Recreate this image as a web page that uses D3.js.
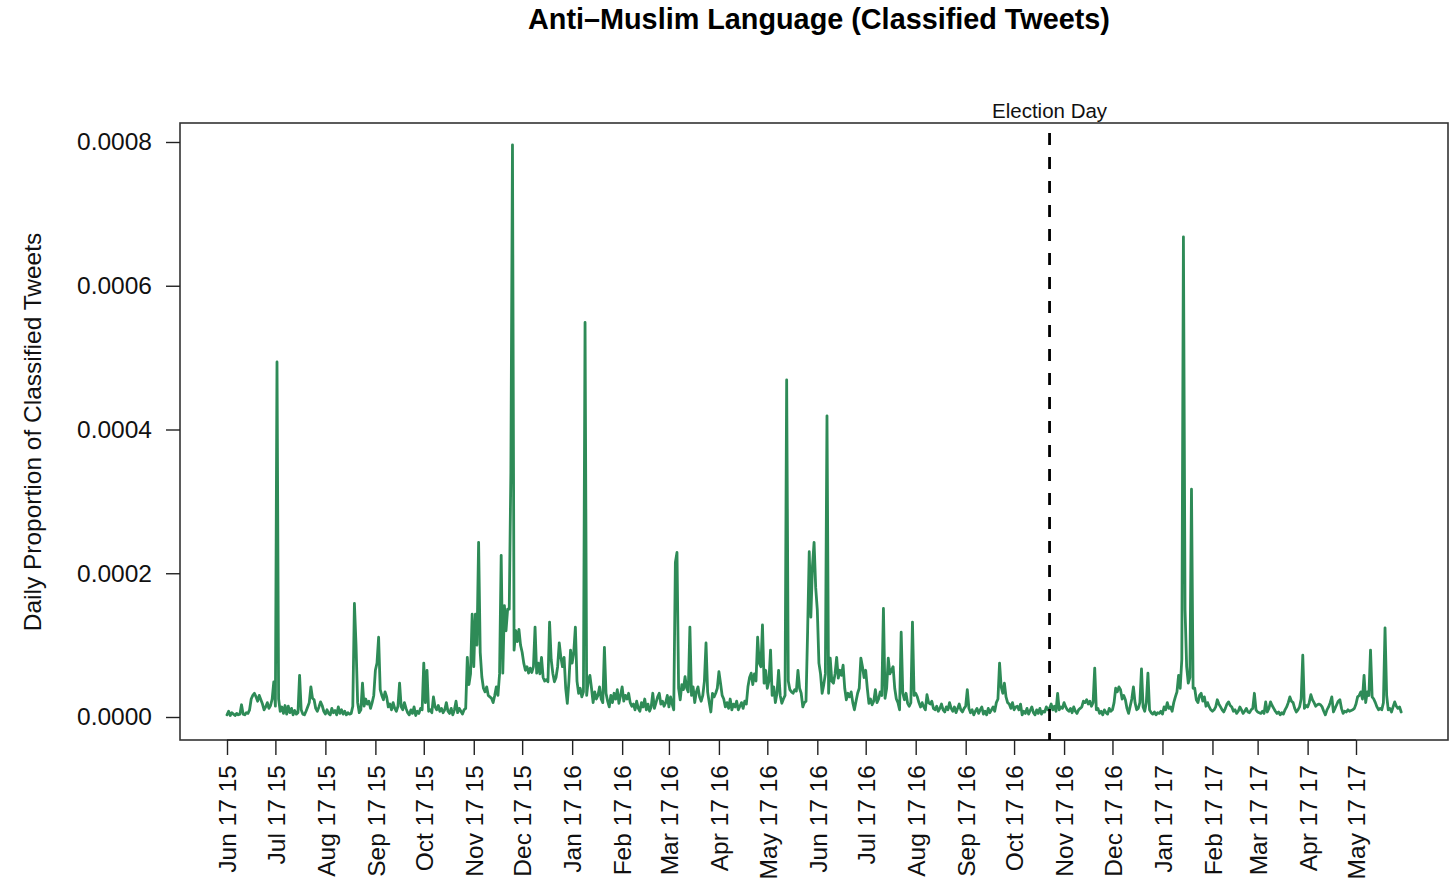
<!DOCTYPE html>
<html>
<head>
<meta charset="utf-8">
<script src="https://cdn.jsdelivr.net/npm/d3@7"></script>
<style>
  html, body { margin: 0; padding: 0; background: #fff; }
  svg { display: block; font-family: "Liberation Sans", Arial, Helvetica, sans-serif; }
</style>
</head>
<body>
<svg id="chart" width="1452" height="883"></svg>
<script>
// Daily proportion of classified tweets, in units of one per million (×1e-6),
// one value per day starting 17 June 2015.
const startDate = new Date(Date.UTC(2015, 5, 17));
const unit = 1e-6;
const dailyPerMillion = [
  3, 8, 2, 6, 4, 2, 5, 3, 4, 17,
  4, 3, 6, 5, 10, 25, 30, 33, 28, 22,
  30, 24, 18, 10, 14, 20, 12, 16, 25, 49,
  15, 494, 25, 8, 14, 5, 16, 4, 15, 6,
  12, 3, 9, 4, 6, 58, 10, 4, 3, 8,
  14, 20, 42, 26, 24, 12, 8, 14, 21, 16,
  8, 4, 10, 5, 3, 12, 6, 9, 3, 14,
  5, 10, 4, 8, 3, 6, 4, 5, 15, 158,
  100, 20, 6, 10, 47, 15, 25, 18, 22, 12,
  20, 30, 65, 75, 111, 38, 30, 24, 35, 28,
  14, 18, 10, 20, 12, 8, 15, 47, 14, 10,
  20, 12, 6, 3, 10, 5, 14, 2, 8, 5,
  12, 10, 75, 20, 65, 8, 10, 6, 28, 14,
  10, 16, 8, 12, 6, 10, 20, 8, 5, 12,
  3, 10, 22, 6, 12, 8, 4, 10, 12, 83,
  45, 60, 143, 70, 143, 100, 243, 90, 56, 40,
  35, 42, 30, 28, 26, 20, 30, 42, 30, 60,
  225, 61, 155, 120, 150, 150, 340, 796, 93, 120,
  105, 122, 100, 90, 75, 65, 70, 61, 68, 62,
  70, 125, 61, 75, 60, 83, 55, 50, 52, 49,
  132, 80, 61, 49, 55, 70, 103, 83, 70, 83,
  40, 19, 50, 93, 75, 90, 125, 50, 33, 40,
  28, 35, 549, 30, 51, 58, 40, 20, 35, 25,
  30, 42, 25, 20, 97, 33, 22, 14, 30, 20,
  33, 25, 38, 19, 30, 42, 22, 30, 25, 33,
  20, 15, 18, 10, 22, 12, 8, 20, 14, 25,
  10, 18, 8, 14, 33, 12, 20, 28, 33, 18,
  22, 15, 20, 30, 14, 28, 18, 10, 215, 229,
  40, 24, 45, 38, 56, 40, 35, 125, 30, 42,
  20, 35, 42, 28, 22, 30, 50, 103, 35, 20,
  7, 33, 28, 33, 40, 63, 47, 30, 25, 14,
  20, 12, 25, 10, 18, 14, 22, 10, 15, 20,
  12, 22, 18, 42, 55, 61, 45, 60, 50, 111,
  75, 70, 128, 47, 65, 40, 50, 93, 30, 42,
  20, 33, 65, 30, 19, 25, 30, 469, 50, 38,
  35, 33, 38, 36, 65, 40, 33, 14, 20, 22,
  120, 230, 139, 210, 243, 180, 149, 75, 60, 33,
  45, 60, 419, 33, 82, 50, 47, 60, 83, 54,
  65, 58, 72, 40, 24, 33, 28, 35, 20, 10,
  22, 33, 40, 82, 70, 55, 65, 40, 19, 25,
  17, 22, 38, 20, 25, 35, 30, 151, 26, 40,
  82, 60, 65, 70, 40, 25, 20, 10, 118, 33,
  24, 33, 19, 15, 20, 132, 30, 33, 28, 20,
  14, 20, 14, 10, 31, 20, 18, 22, 12, 10,
  15, 8, 12, 18, 10, 7, 14, 10, 20, 12,
  8, 14, 6, 12, 18, 10, 7, 12, 15, 38,
  12, 6, 10, 3, 8, 12, 5, 10, 14, 4,
  8, 3, 12, 6, 10, 14, 8, 20, 25, 75,
  42, 33, 47, 28, 20, 18, 12, 20, 10, 14,
  15, 10, 18, 3, 8, 5, 12, 4, 9, 14,
  6, 3, 10, 5, 12, 4, 8, 7, 14, 10,
  12, 18, 10, 15, 8, 33, 10, 14, 12, 20,
  14, 10, 8, 12, 6, 14, 8, 5, 10, 12,
  14, 22, 20, 24, 18, 22, 15, 20, 68, 10,
  12, 5, 8, 3, 10, 6, 4, 12, 8, 10,
  20, 40, 35, 42, 38, 25, 30, 24, 12, 5,
  15, 25, 42, 20, 10, 12, 20, 67, 14, 8,
  20, 61, 10, 6, 4, 7, 3, 6, 5, 8,
  4, 14, 10, 20, 12, 14, 8, 20, 28, 35,
  58, 40, 80, 668, 150, 70, 47, 55, 317, 40,
  40, 24, 20, 30, 33, 22, 28, 15, 20, 14,
  10, 8, 10, 14, 24, 18, 14, 10, 7, 12,
  18, 21, 16, 14, 8, 10, 5, 8, 14, 10,
  5, 8, 12, 7, 6, 10, 12, 33, 10, 7,
  6, 5, 8, 5, 21, 7, 12, 21, 16, 12,
  8, 5, 7, 3, 6, 4, 10, 14, 20, 28,
  22, 20, 12, 7, 10, 14, 25, 86, 12, 16,
  14, 20, 31, 24, 20, 15, 17, 18, 17, 14,
  8, 3, 10, 14, 20, 28, 7, 12, 17, 22,
  24, 12, 5, 8, 7, 10, 8, 9, 10, 12,
  18, 28, 30, 35, 25, 58, 20, 35, 30, 93,
  28, 25, 20, 14, 10, 12, 10, 20, 124, 30,
  10, 12, 7, 14, 21, 15, 12, 14, 7
];

// Axis ticks: the 17th of every month, June 2015 to May 2017
const tickMonths = d3.utcMonths(new Date(Date.UTC(2015, 5, 1)), new Date(Date.UTC(2017, 5, 1)));
const tickDates = tickMonths.map(d => new Date(Date.UTC(d.getUTCFullYear(), d.getUTCMonth(), 17)));
const yTicks = [0, 0.0002, 0.0004, 0.0006, 0.0008];
const electionDay = new Date(Date.UTC(2016, 10, 8));

const titleText = "Anti\u2013Muslim Language (Classified Tweets)";
const yLabelText = "Daily Proportion of Classified Tweets";
const markerText = "Election Day";

const series = dailyPerMillion.map((v, i) => ({
  date: d3.utcDay.offset(startDate, i),
  value: v * unit
}));

const svg = d3.select("#chart");
const box = { left: 180, right: 1448, top: 123, bottom: 740 };

const x = d3.scaleUtc()
  .domain([tickDates[0], tickDates[tickDates.length - 1]])
  .range([227, 1356]);
const y = d3.scaleLinear()
  .domain([0, 0.0008])
  .range([717, 142]);

// Title
svg.append("text")
  .attr("x", 819)
  .attr("y", 29)
  .attr("text-anchor", "middle")
  .attr("font-weight", "bold")
  .attr("font-size", 28.8)
  .text(titleText);

// Plot frame
svg.append("rect")
  .attr("x", box.left)
  .attr("y", box.top)
  .attr("width", box.right - box.left)
  .attr("height", box.bottom - box.top)
  .attr("fill", "none")
  .attr("stroke", "#333")
  .attr("stroke-width", 1.6);

// Y axis
const yAxis = d3.axisLeft(y)
  .tickValues(yTicks)
  .tickFormat(d3.format(".4f"))
  .tickSize(14)
  .tickPadding(14);
const yg = svg.append("g")
  .attr("transform", `translate(${box.left},0)`)
  .call(yAxis);
yg.select(".domain").remove();
yg.selectAll(".tick line").attr("stroke", "#222").attr("stroke-width", 1.4);
yg.selectAll(".tick text")
  .attr("font-size", 24.5)
  .attr("font-family", "Liberation Sans, Arial, sans-serif")
  .attr("fill", "#111");

// X axis
const xAxis = d3.axisBottom(x)
  .tickValues(tickDates)
  .tickFormat(d3.utcFormat("%b %d %y"))
  .tickSize(15)
  .tickSizeOuter(0);
const xg = svg.append("g")
  .attr("transform", `translate(0,${box.bottom})`)
  .call(xAxis);
xg.select(".domain")
  .attr("d", `M${x(tickDates[0])},0H${x(tickDates[tickDates.length - 1])}`)
  .attr("stroke", "#222")
  .attr("stroke-width", 1.4);
xg.selectAll(".tick line").attr("stroke", "#222").attr("stroke-width", 1.4);
xg.selectAll(".tick text")
  .attr("font-size", 24.5)
  .attr("font-family", "Liberation Sans, Arial, sans-serif")
  .attr("fill", "#111")
  .attr("text-anchor", "end")
  .attr("transform", "rotate(-90)")
  .attr("x", -25)
  .attr("y", 0)
  .attr("dy", "0.36em");

// Y axis title
svg.append("text")
  .attr("transform", `translate(41,432) rotate(-90)`)
  .attr("text-anchor", "middle")
  .attr("font-size", 24.5)
  .attr("fill", "#111")
  .text(yLabelText);

// Daily series
const line = d3.line()
  .x(d => x(d.date))
  .y(d => y(d.value));
svg.append("path")
  .datum(series)
  .attr("d", line)
  .attr("fill", "none")
  .attr("stroke", "#2E8B57")
  .attr("stroke-width", 2.8)
  .attr("stroke-linejoin", "round")
  .attr("stroke-linecap", "round");

// Election day marker
svg.append("line")
  .attr("x1", x(electionDay))
  .attr("x2", x(electionDay))
  .attr("y1", box.top + 10)
  .attr("y2", box.bottom)
  .attr("stroke", "#000")
  .attr("stroke-width", 2.8)
  .attr("stroke-dasharray", "12 12");
svg.append("text")
  .attr("x", x(electionDay))
  .attr("y", 118)
  .attr("text-anchor", "middle")
  .attr("font-size", 20.5)
  .attr("fill", "#111")
  .text(markerText);
</script>
</body>
</html>
